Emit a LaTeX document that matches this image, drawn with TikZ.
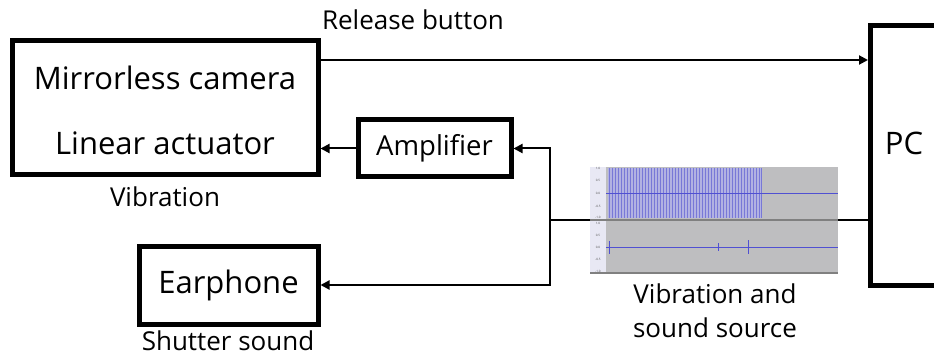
\documentclass[tikz,border=0pt]{standalone}
\usepackage{fontspec}
\setmainfont{Open Sans}
\usetikzlibrary{arrows.meta}
\definecolor{wavebg}{RGB}{190,190,192}
\definecolor{wavefill}{RGB}{178,178,226}
\definecolor{wavestripe}{RGB}{120,120,215}
\definecolor{waveline}{RGB}{80,80,210}
\definecolor{axbg}{RGB}{232,232,244}
\begin{document}
\begin{tikzpicture}[x=1pt,y=-1pt,
  blk/.style={draw,line width=5pt,inner sep=0pt},
  conn/.style={line width=2pt},
  arr/.style={conn,-{Triangle[length=9pt,width=9pt]}},
  lbl/.style={font=\fontsize{26}{28}\selectfont,inner sep=0pt},
  big/.style={font=\fontsize{31}{33}\selectfont,inner sep=0pt},
  ax/.style={font=\fontsize{3}{3}\selectfont,inner sep=0pt,text=black!70}]
\useasboundingbox (0,0) rectangle (934,358);
% blocks
\node[blk,minimum width=306pt,minimum height=134pt] (cam) at (165,108) {};
\node[big] (t1) at (165,78) {Mirrorless camera};
\node[big] (t2) at (165,143) {Linear actuator};
\node[blk,minimum width=153pt,minimum height=57pt] (amp) at (434.5,148.5) {};
\node[big,font=\fontsize{27.5}{29}\selectfont] at (amp) {Amplifier};
\node[blk,minimum width=179pt,minimum height=78pt] (ear) at (228.5,285) {};
\node[big] at (ear) {Earphone};
\node[blk,minimum width=120pt,minimum height=260pt,anchor=north west] (pc) at (868,23) {};
\node[big] at (904,143) {PC};
% labels
\node[lbl] at (413,20) {Release button};
\node[lbl] at (165,197) {Vibration};
\node[lbl] at (228,341) {Shutter sound};
\node[lbl] at (715,294) {Vibration and};
\node[lbl] at (715,328) {sound source};
% waveform
\coordinate (wl) at (590,220);
\coordinate (wr) at (838,220);
\fill[axbg] (590,167) rectangle (606,273);
\fill[wavebg] (606,167) rectangle (838,219);
\fill[wavebg] (606,221) rectangle (838,273);
\draw[black!50,line width=1.2pt] (590,220) -- (838,220);
\draw[black!50,line width=1.2pt] (590,273) -- (838,273);
\fill[wavefill] (608,168) rectangle (761,218);
\foreach \i in {0,...,50} {\draw[wavestripe,line width=0.5pt] ({609+\i*3},168) -- ({609+\i*3},218);}
\draw[wavestripe,line width=0.5pt] (761,168) -- (761,218);
\draw[waveline,line width=0.6pt] (606,193) -- (838,193);
\draw[waveline,line width=0.8pt] (606,247) -- (838,247);
\draw[waveline,line width=0.8pt] (609,241) -- (609,254) (718,243) -- (718,251) (748,240) -- (748,254);
\foreach \y/\t in {168/1.0,180/0.5,193/0.0,206/-0.5,217/-1.0} {\node[ax] at (598,\y) {\t};}
\foreach \y/\t in {223/1.0,235/0.5,247/0.0,259/-0.5,271/-1.0} {\node[ax] at (598,\y) {\t};}
% connectors
\coordinate (j) at (550,220);
\draw[arr] (cam.east |- 0,60) -- (pc.west |- 0,60);
\draw[arr] (amp.west) -- (cam.east |- amp.west);
\draw[arr] (wl) -- (j) |- (amp.east);
\draw[arr] (j) |- (ear.east);
\draw[conn] (wr) -- (pc.west |- wr);
\end{tikzpicture}
\end{document}
